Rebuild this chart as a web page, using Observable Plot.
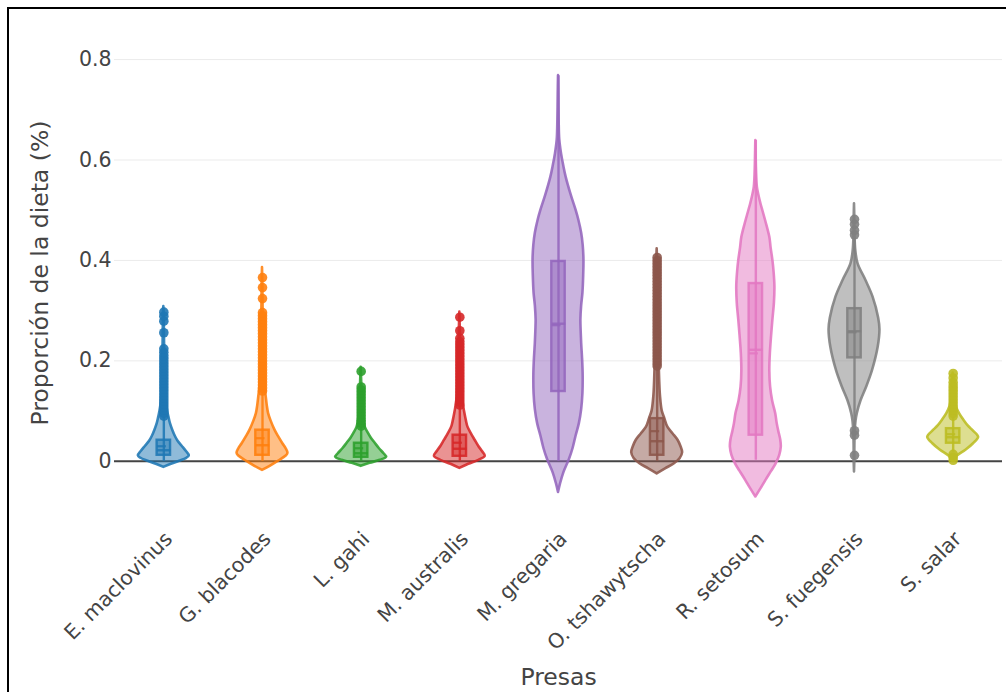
<!DOCTYPE html>
<html>
<head>
<meta charset="utf-8">
<script src="https://cdn.jsdelivr.net/npm/d3@7"></script>
<script src="https://cdn.jsdelivr.net/npm/@observablehq/plot@0.6"></script>
<style>
  html, body { margin: 0; padding: 0; background: #fff; overflow: hidden; }
  #chart { position: absolute; left: 0; top: 0; }
  #frame { position: absolute; left: 7px; top: 7px; width: 1100px; height: 800px;
           border-left: 2.5px solid #000; border-top: 2.5px solid #000; pointer-events: none; }
</style>
</head>
<body>
<div id="chart"></div>
<div id="frame"></div>
<script>
// ---- categories, colours ----
const categories = ["E. maclovinus", "G. blacodes", "L. gahi", "M. australis", "M. gregaria",
                    "O. tshawytscha", "R. setosum", "S. fuegensis", "S. salar"];
const colors = ["#1f77b4", "#ff7f0e", "#2ca02c", "#d62728", "#9467bd",
                "#8c564b", "#e377c2", "#7f7f7f", "#bcbd22"];
const yTicks = [0, 0.2, 0.4, 0.6, 0.8];

// ---- violin profiles: [value, relative density (0..1)] ----
const violinMaclovinus = [[-0.012,0],[-0.006,0.3],[0,0.62],[0.006,0.9],[0.011,1.0],[0.02,0.88],[0.03,0.72],[0.04,0.56],[0.05,0.45],[0.062,0.35],[0.075,0.26],[0.088,0.2],[0.1,0.15],[0.12,0.1],[0.15,0.07],[0.2,0.04],[0.25,0.025],[0.3,0.01],[0.308,0]];
const violinBlacodes = [[-0.018,0],[-0.01,0.3],[0,0.62],[0.01,0.92],[0.016,1.0],[0.025,0.93],[0.035,0.8],[0.05,0.62],[0.062,0.49],[0.08,0.34],[0.095,0.24],[0.11,0.19],[0.127,0.15],[0.14,0.12],[0.17,0.08],[0.2,0.06],[0.25,0.04],[0.3,0.025],[0.35,0.015],[0.386,0]];
const violinGahi = [[-0.01,0],[-0.004,0.35],[0.002,0.75],[0.008,1.0],[0.015,0.9],[0.025,0.72],[0.036,0.55],[0.046,0.4],[0.056,0.28],[0.068,0.16],[0.08,0.11],[0.1,0.07],[0.13,0.04],[0.16,0.02],[0.187,0]];
const violinAustralis = [[-0.014,0],[-0.006,0.35],[0.002,0.75],[0.01,1.0],[0.02,0.88],[0.03,0.74],[0.042,0.6],[0.055,0.45],[0.068,0.32],[0.08,0.26],[0.095,0.2],[0.11,0.15],[0.13,0.1],[0.16,0.07],[0.2,0.045],[0.25,0.025],[0.297,0]];
const violinGregaria = [[-0.062,0],[-0.045,0.08],[-0.023,0.21],[0.0035,0.43],[0.025,0.57],[0.05,0.69],[0.075,0.82],[0.103,0.91],[0.135,0.96],[0.169,0.97],[0.2,0.95],[0.235,0.91],[0.26,0.89],[0.282,0.88],[0.31,0.91],[0.335,0.96],[0.37,0.99],[0.401,1.0],[0.43,0.97],[0.454,0.91],[0.48,0.8],[0.5,0.69],[0.53,0.5],[0.566,0.3],[0.59,0.2],[0.612,0.12],[0.64,0.05],[0.68,0.025],[0.73,0.012],[0.768,0]];
const violinTshawytscha = [[-0.025,0],[-0.015,0.33],[-0.005,0.68],[0.005,0.9],[0.017,1.0],[0.03,0.93],[0.042,0.82],[0.055,0.62],[0.068,0.42],[0.085,0.3],[0.1,0.2],[0.13,0.13],[0.16,0.1],[0.2,0.075],[0.25,0.055],[0.3,0.04],[0.35,0.028],[0.4,0.015],[0.423,0]];
const violinSetosum = [[-0.071,0],[-0.055,0.2],[-0.038,0.4],[-0.02,0.62],[-0.005,0.8],[0.012,0.94],[0.028,1.0],[0.042,0.98],[0.06,0.9],[0.075,0.84],[0.095,0.78],[0.12,0.66],[0.148,0.58],[0.18,0.55],[0.214,0.57],[0.25,0.62],[0.281,0.67],[0.315,0.73],[0.347,0.75],[0.375,0.72],[0.4,0.67],[0.425,0.6],[0.446,0.55],[0.48,0.38],[0.513,0.2],[0.53,0.12],[0.546,0.06],[0.58,0.025],[0.61,0.012],[0.639,0]];
const violinFuegensis = [[-0.021,0],[0,0.012],[0.03,0.015],[0.06,0.03],[0.08,0.06],[0.095,0.11],[0.121,0.26],[0.148,0.48],[0.181,0.71],[0.227,0.93],[0.262,1.0],[0.285,0.95],[0.327,0.73],[0.36,0.45],[0.393,0.14],[0.42,0.05],[0.45,0.02],[0.49,0.01],[0.513,0]];
const violinSalar = [[0,0],[0.01,0.15],[0.022,0.5],[0.035,0.8],[0.048,1.0],[0.06,0.8],[0.07,0.6],[0.082,0.42],[0.095,0.25],[0.11,0.12],[0.13,0.06],[0.15,0.03],[0.176,0]];
const violins = [violinMaclovinus, violinBlacodes, violinGahi, violinAustralis, violinGregaria,
                 violinTshawytscha, violinSetosum, violinFuegensis, violinSalar];

// ---- box statistics ----
const q1s     = [0.012, 0.012, 0.008, 0.010, 0.139, 0.012, 0.052, 0.206, 0.036];
const medians = [0.022, 0.032, 0.016, 0.025, 0.274, 0.040, 0.222, 0.259, 0.048];
const means   = [0.030, 0.046, 0.026, 0.037, 0.271, 0.060, 0.215, 0.257, 0.054];
const q3s     = [0.042, 0.062, 0.036, 0.052, 0.398, 0.085, 0.354, 0.304, 0.065];
const whiskerLow  = [0.000, 0.000, 0.000, 0.000, 0.000, 0.000, 0.002, 0.066, 0.018];
const whiskerHigh = [0.088, 0.138, 0.070, 0.112, 0.768, 0.190, 0.639, 0.440, 0.088];

// ---- outlier points ----
const outMaclovinus = [0.09,0.096,0.102,0.108,0.114,0.12,0.126,0.132,0.138,0.144,0.15,0.156,0.162,0.168,0.174,0.18,0.186,0.192,0.198,0.204,0.21,0.217,0.224,0.256,0.279,0.289,0.297];
const outBlacodes = [0.14,0.146,0.152,0.158,0.164,0.17,0.176,0.182,0.188,0.194,0.2,0.206,0.212,0.218,0.224,0.23,0.236,0.242,0.248,0.254,0.26,0.266,0.272,0.278,0.284,0.29,0.296,0.324,0.346,0.366];
const outGahi = [0.07,0.076,0.082,0.088,0.094,0.1,0.106,0.112,0.118,0.124,0.13,0.136,0.142,0.148,0.179];
const outAustralis = [0.112,0.118,0.124,0.13,0.136,0.142,0.148,0.154,0.16,0.166,0.172,0.178,0.184,0.19,0.196,0.202,0.208,0.214,0.22,0.226,0.232,0.238,0.245,0.26,0.287];
const outGregaria = [];
const outTshawytscha = [0.19,0.196,0.202,0.208,0.214,0.22,0.226,0.232,0.238,0.244,0.25,0.256,0.262,0.268,0.274,0.28,0.286,0.292,0.298,0.304,0.31,0.316,0.322,0.328,0.334,0.34,0.346,0.352,0.358,0.364,0.37,0.376,0.382,0.388,0.394,0.4,0.406];
const outSetosum = [];
const outFuegensis = [0.012,0.052,0.061,0.451,0.46,0.472,0.482];
const outSalar = [0.002,0.008,0.014,0.09,0.096,0.102,0.108,0.114,0.12,0.126,0.132,0.138,0.144,0.15,0.157,0.166,0.175];
const outliers = [outMaclovinus, outBlacodes, outGahi, outAustralis, outGregaria,
                  outTshawytscha, outSetosum, outFuegensis, outSalar];

// ---- build ----
const K = 0.258;  // max violin half-width (category units)
const B = 0.068;  // box half-width (category units)
const font = "'DejaVu Sans', Verdana, sans-serif";

const marks = [
  Plot.gridY(yTicks, {stroke: "#ebebeb", strokeOpacity: 1, strokeWidth: 1}),
  Plot.ruleY([0], {stroke: "#444", strokeWidth: 2})
];

categories.forEach((c, i) => {
  const col = colors[i];
  marks.push(Plot.areaX(violins[i], {
    y: d => d[0], x1: d => i - d[1] * K, x2: d => i + d[1] * K,
    fill: col, fillOpacity: 0.5, stroke: col, strokeOpacity: 0.88, strokeWidth: 2.6, curve: "catmull-rom"
  }));
  const stat = [{lo: whiskerLow[i], hi: whiskerHigh[i], q1: q1s[i], q3: q3s[i], med: medians[i], mean: means[i]}];
  marks.push(Plot.ruleX(stat, {x: () => i, y1: "lo", y2: "hi", stroke: col, strokeOpacity: 0.88, strokeWidth: 2.4}));
  marks.push(Plot.rect(stat, {x1: () => i - B, x2: () => i + B, y1: "q1", y2: "q3",
    fill: col, fillOpacity: 0.5, stroke: col, strokeOpacity: 0.88, strokeWidth: 2.4}));
  marks.push(Plot.link(stat, {x1: () => i - B, x2: () => i + B, y1: "med", y2: "med", stroke: col, strokeOpacity: 0.88, strokeWidth: 2.4}));
  marks.push(Plot.link(stat, {x1: () => i - B, x2: () => i + B * 0.3, y1: "mean", y2: "mean", stroke: col, strokeOpacity: 0.88, strokeWidth: 2.2}));
  marks.push(Plot.dot(outliers[i], {x: () => i, y: d => d, r: 4.8, fill: col, fillOpacity: 0.9, stroke: "none"}));
});

marks.push(Plot.axisY(yTicks, {tickSize: 0, tickPadding: 3, fontSize: 20.5, label: null,
  tickFormat: d => d === 0 ? "0" : d.toFixed(1)}));
marks.push(Plot.axisX(d3.range(categories.length), {tickSize: 0, tickPadding: 29, tickRotate: -45,
  fontSize: 20.5, label: null, dx: 5, tickFormat: i => categories[i]}));
marks.push(Plot.text(["Proporción de la dieta (%)"], {frameAnchor: "left", rotate: -90, dx: -74,
  fontSize: 23.5, fill: "#444", lineAnchor: "middle", textAnchor: "middle"}));
marks.push(Plot.text(["Presas"], {frameAnchor: "bottom", dy: 171, fontSize: 23.5, fill: "#444",
  lineAnchor: "middle", textAnchor: "middle"}));

const chart = Plot.plot({
  width: 1006, height: 692,
  marginLeft: 114, marginRight: 4, marginTop: 39, marginBottom: 186,
  style: {fontFamily: font, color: "#444", background: "#fff", overflow: "visible"},
  x: {domain: [-0.5, 8.5]},
  y: {domain: [-0.09, 0.84]},
  marks
});
document.getElementById("chart").appendChild(chart);
</script>
</body>
</html>
